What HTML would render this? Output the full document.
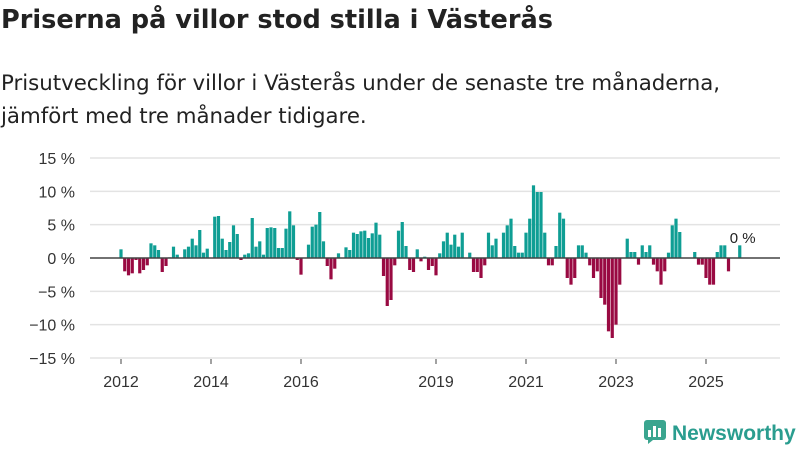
<!DOCTYPE html>
<html><head><meta charset="utf-8"><style>
body{margin:0;width:800px;height:450px;background:#fff;font-family:"Liberation Sans","DejaVu Sans",sans-serif;overflow:hidden;position:relative;color:#222}
#title{position:absolute;left:1px;top:5px;font-family:"DejaVu Sans",sans-serif;font-size:25.6px;font-weight:bold;margin:0}
#sub{position:absolute;left:1px;top:67px;font-family:"DejaVu Sans",sans-serif;font-size:21.3px;line-height:33px;color:#222}
#logo{position:absolute;left:644px;top:420px;font-size:21px;font-weight:bold;color:#2a9d8f}
</style></head><body>
<h1 id="title">Priserna på villor stod stilla i Västerås</h1>
<div id="sub">Prisutveckling för villor i Västerås under de senaste tre månaderna,<br>jämfört med tre månader tidigare.</div>
<svg id="chart" width="800" height="450" style="position:absolute;left:0;top:0"></svg>
<div id="logo"><svg width="24" height="24" style="vertical-align:-4px;margin-right:4px"><rect x="0" y="0" width="22" height="20" rx="3" fill="#3aa58f"/><rect x="4" y="10" width="3" height="7" fill="#fff"/><rect x="9" y="6" width="3" height="11" fill="#fff"/><rect x="14" y="8" width="3" height="9" fill="#fff"/><path d="M4 20 L4 24 L9 20Z" fill="#3aa58f"/></svg>Newsworthy</div>
<script>
const values=[1.3,-2,-2.6,-2.3,-0.3,-2.3,-1.8,-1.1,2.2,1.9,1.2,-2.1,-1.2,0.1,1.7,0.5,0,1.3,1.7,2.9,1.9,4.2,0.8,1.4,0,6.2,6.3,2.9,1.2,2.4,4.9,3.6,-0.3,0.5,0.7,6,1.7,2.5,0.5,4.5,4.6,4.5,1.5,1.5,4.4,7,4.9,-0.3,-2.5,0,2,4.7,5,6.9,2.5,-1.2,-3.2,-1.6,0.7,0,1.6,1.2,3.8,3.6,4,4.1,3,3.7,5.3,3.5,-2.7,-7.2,-6.3,-1.1,4.1,5.4,1.8,-1.8,-2.1,1.3,-0.5,0.2,-1.8,-1.2,-2.6,0.7,2.5,3.8,2,3.5,1.7,3.8,0,0.8,-2.1,-2.1,-3,-1.1,3.8,1.9,2.9,0,3.8,4.9,5.9,1.8,0.8,0.8,3.8,5.9,10.9,9.9,9.9,3.8,-1.1,-1.1,1.8,6.8,5.9,-3,-4,-3,1.9,1.9,0.8,-1.1,-3,-2,-6,-7,-11,-12,-10,-4,0,2.9,0.9,0.9,-1,1.9,0.9,1.9,-1,-2,-4,-2,0.8,4.9,5.9,3.9,0,0,0,0.9,-1,-1,-3,-4,-4,0.9,1.9,1.9,-2,0,0,1.9];
const yTicks=[15,10,5,0,-5,-10,-15];
const yTickLabels=["15 %","10 %","5 %","0 %","−5 %","−10 %","−15 %"];
const xYears=[2012,2014,2016,2019,2021,2023,2025];
const lastLabel="0 %";
const NS="http://www.w3.org/2000/svg";
const svg=document.getElementById('chart');
const y=v=>258-v*(100/15);
const x=i=>121+3.75*i;
function mk(t,a){const e=document.createElementNS(NS,t);for(const k in a)e.setAttribute(k,a[k]);svg.appendChild(e);return e;}
yTicks.forEach((t,k)=>{
  if(t!==0){const g=mk('line',{x1:90,x2:780,y1:y(t),y2:y(t),stroke:'#e3e3e3','stroke-width':1.5});
  
  }
  const tx=mk('text',{x:75,y:y(t)+6,'text-anchor':'end','font-size':16,fill:'#333'});
  tx.textContent=yTickLabels[k];
  
  
});
values.forEach((v,i)=>{
  const r=mk('rect',{x:x(i)-1.6,width:3.2,y:Math.min(y(v),y(0)),height:Math.abs(y(v)-y(0)),fill:v>=0?'#0f9e94':'#990a42'});
  
  
});
const z=mk('line',{x1:90,x2:780,y1:y(0),y2:y(0),stroke:'#444','stroke-width':1.5});


xYears.forEach(yr=>{
  const xi=x((yr-2012)*12);
  const tk=mk('line',{x1:xi,x2:xi,y1:359,y2:364,stroke:'#444'});
  
  
  const t=mk('text',{x:xi,y:387,'text-anchor':'middle','font-size':16,fill:'#333'});
  t.textContent=yr;
  
  
});
const ll=mk('text',{x:x(values.length-1)-10,y:243,'font-size':15,fill:'#222'});
ll.textContent=lastLabel;


</script>
</body></html>
